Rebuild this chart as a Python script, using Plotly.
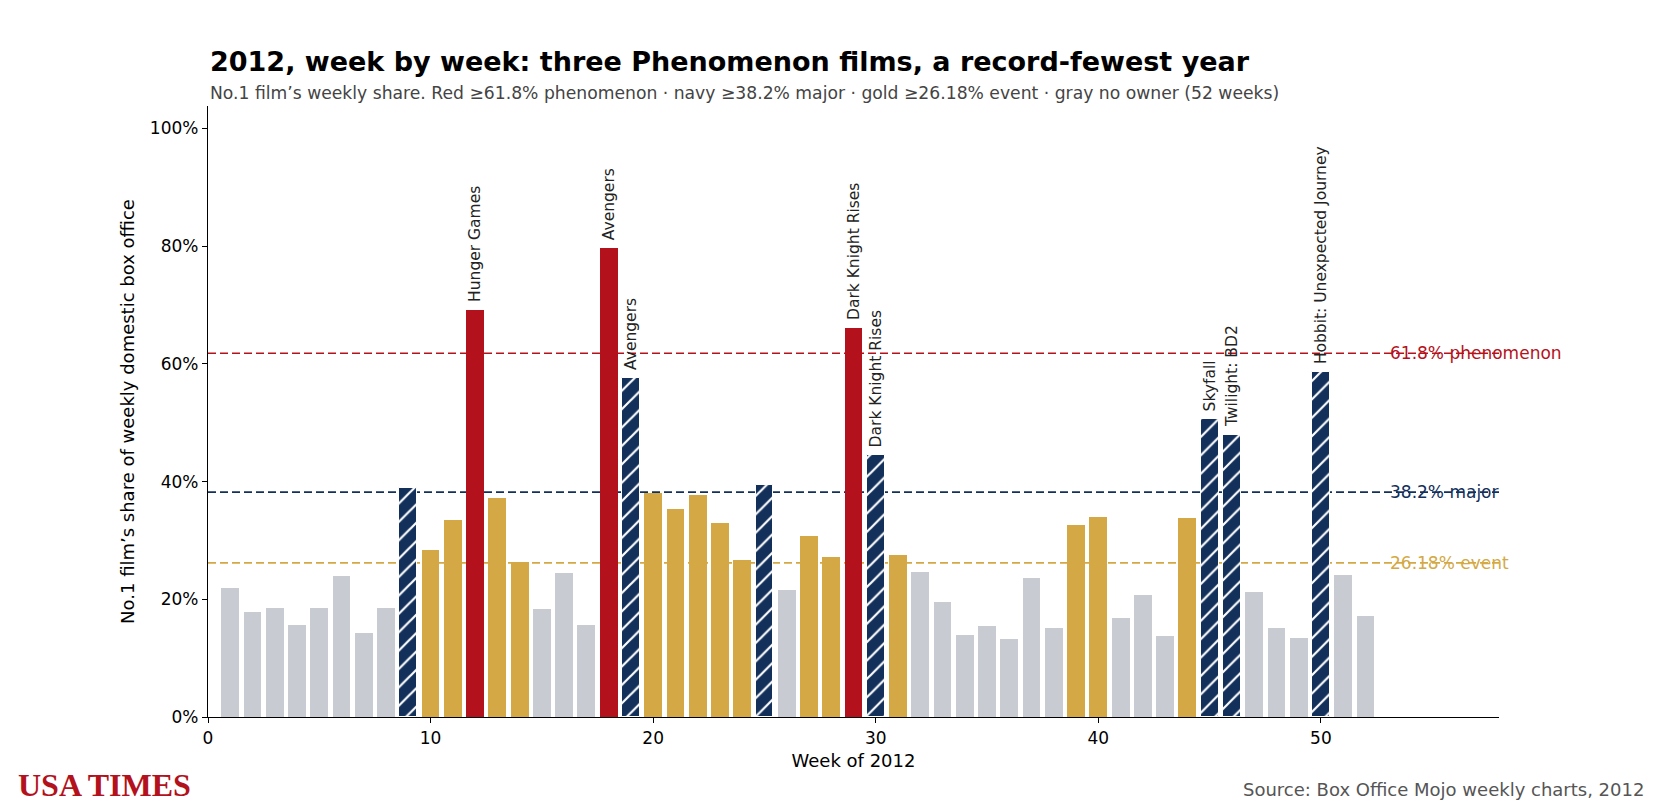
import plotly.graph_objects as go

# Semanas de 2012 y cuota del film No.1 (%)
semanas = list(range(1, 53))
cuota = [21.9, 17.8, 18.6, 15.6, 18.5, 23.9, 14.2, 18.6, 38.9, 28.3,
         33.4, 69.2, 37.2, 26.3, 18.3, 24.4, 15.6, 79.6, 57.6, 38.0,
         35.3, 37.8, 32.9, 26.6, 39.4, 21.5, 30.7, 27.1, 66.1, 44.5,
         27.5, 24.6, 19.5, 13.9, 15.4, 13.2, 23.6, 15.2, 32.6, 33.9,
         16.8, 20.8, 13.7, 33.8, 50.6, 47.9, 21.2, 15.1, 13.5, 58.6,
         24.1, 17.2]

# Etiquetas de películas sobre las barras
etiquetas = {12: "Hunger Games", 18: "Avengers", 19: "Avengers",
             29: "Dark Knight Rises", 30: "Dark Knight Rises",
             45: "Skyfall", 46: "Twilight: BD2", 50: "Hobbit: Unexpected Journey"}

umbrales = [61.8, 38.2, 26.18]
umbral_textos = ["61.8% phenomenon", "38.2% major", "26.18% event"]

y_ticks = [0, 20, 40, 60, 80, 100]
y_ticktext = ["0%", "20%", "40%", "60%", "80%", "100%"]
x_ticks = [0, 10, 20, 30, 40, 50]

ROJO = "#b3121c"
AZUL = "#13305b"
ORO = "#d4a945"
GRIS = "#c8cbd2"
colores_umbral = ["#b5121b", AZUL, ORO]


def nivel(v):
    if v >= 61.8:
        return "phen"
    if v >= 38.2:
        return "major"
    if v >= 26.18:
        return "event"
    return "none"


niveles = [nivel(v) for v in cuota]

fig = go.Figure()

estilos = {
    "none": dict(color=GRIS, line=dict(width=0)),
    "event": dict(color=ORO, line=dict(width=0)),
    "phen": dict(color=ROJO, line=dict(width=0)),
    "major": dict(color=AZUL, line=dict(color="white", width=1),
                  pattern=dict(shape="/", fgcolor="white", bgcolor=AZUL,
                               size=13, solidity=0.17, fillmode="replace")),
}

for clave in ["none", "event", "major", "phen"]:
    xs = [s for s, n in zip(semanas, niveles) if n == clave]
    ys = [v for v, n in zip(cuota, niveles) if n == clave]
    fig.add_trace(go.Bar(x=xs, y=ys, width=0.8, marker=estilos[clave],
                         showlegend=False, hoverinfo="x+y"))

# Líneas de umbral
for u, txt, c in zip(umbrales, umbral_textos, colores_umbral):
    fig.add_shape(type="line", xref="x", yref="y", x0=0, x1=58, y0=u, y1=u,
                  line=dict(color=c, width=1.6, dash="8px,4px"), layer="below")
    fig.add_annotation(x=53.0, y=u, xref="x", yref="y", text=txt,
                       showarrow=False, xanchor="left", yanchor="middle",
                       font=dict(size=17, color=c))

# Etiquetas rotadas
for s, nombre in etiquetas.items():
    fig.add_annotation(x=s, y=cuota[s - 1] + 1.0, xref="x", yref="y", text=nombre,
                       textangle=-90, showarrow=False, xanchor="center", yanchor="bottom",
                       font=dict(size=15.5, color="#222222"))

# Título, subtítulo, marca y fuente
fig.add_annotation(x=0, y=1.073, xref="paper", yref="paper", showarrow=False,
                   xanchor="left", yanchor="middle",
                   text="<b>2012, week by week: three Phenomenon films, a record-fewest year</b>",
                   font=dict(size=27, color="black"))
fig.add_annotation(x=0, y=1.021, xref="paper", yref="paper", showarrow=False,
                   xanchor="left", yanchor="middle",
                   text="No.1 film’s weekly share. Red ≥61.8% phenomenon · navy ≥38.2% major · gold ≥26.18% event · gray no owner (52 weeks)",
                   font=dict(size=17.2, color="#444444"))
fig.add_annotation(x=-0.149, y=-0.111, xref="paper", yref="paper", showarrow=False,
                   xanchor="left", yanchor="middle", text="<b>USA TIMES</b>",
                   font=dict(size=32, color=ROJO, family="Liberation Serif"))
fig.add_annotation(x=1.114, y=-0.119, xref="paper", yref="paper", showarrow=False,
                   xanchor="right", yanchor="middle",
                   text="Source: Box Office Mojo weekly charts, 2012",
                   font=dict(size=18, color="#555555"))

fig.update_layout(
    width=1656, height=798,
    margin=dict(l=200, r=165, t=98, b=89),
    plot_bgcolor="white", paper_bgcolor="white",
    font=dict(family="DejaVu Sans", color="black"),
    bargap=0,
    xaxis=dict(range=[0, 58], tickvals=x_ticks,
               showgrid=False, zeroline=False, showline=True, linecolor="black",
               linewidth=1.3, ticks="outside", ticklen=5, tickcolor="black",
               tickfont=dict(size=17),
               title=dict(text="Week of 2012", font=dict(size=18), standoff=7)),
    yaxis=dict(range=[0, 103.8], tickvals=y_ticks, ticktext=y_ticktext,
               showgrid=False, zeroline=False, showline=True, linecolor="black",
               linewidth=1.3, ticks="outside", ticklen=5, tickcolor="black",
               tickfont=dict(size=17),
               title=dict(text="No.1 film’s share of weekly domestic box office",
                          font=dict(size=18), standoff=10)),
)

fig.write_html("out.html")
